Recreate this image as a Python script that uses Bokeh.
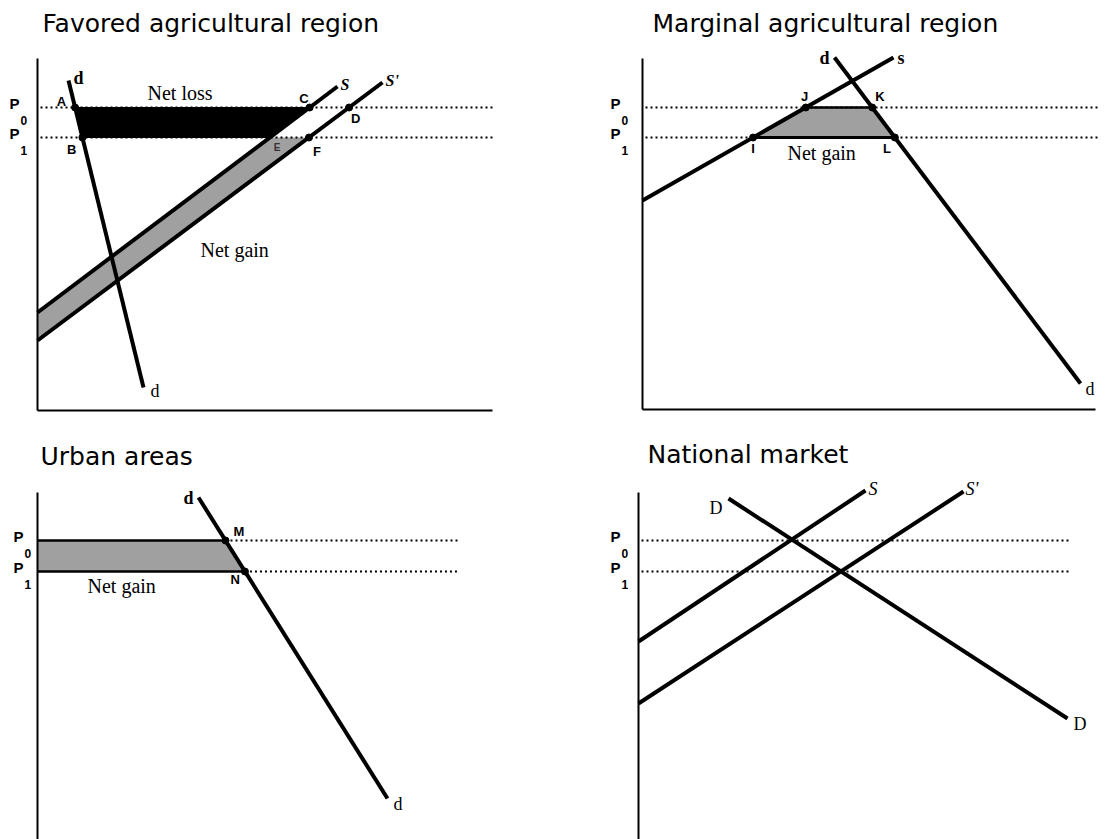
import numpy as np
from bokeh.plotting import figure
from bokeh.layouts import gridplot
from bokeh.models import Range1d, LinearAxis, FixedTicker
from bokeh.core.properties import value
from bokeh.embed import file_html
from bokeh.resources import INLINE

# ---------------- data (quantity / price units) ----------------
TITLES = ["Favored agricultural region", "Marginal agricultural region",
          "Urban areas", "National market"]
PRICE_SUBS = ["0", "1"]

# Favored agricultural region
fav_prices = [30.3, 27.3]                 # P0, P1
fav_s_x = [0.0, 30.0]
fav_s_y = [9.8, 32.4]
fav_s2_x = [0.0, 34.5]
fav_s2_y = [7.0, 32.8]
fav_d_x = [3.1, 10.6]
fav_d_y = [33.0, 2.3]

# Marginal agricultural region
mar_prices = [30.2, 27.2]
mar_s_x = [0.0, 25.1]
mar_s_y = [20.9, 35.2]
mar_d_x = [19.2, 43.8]
mar_d_y = [35.2, 2.6]

# Urban areas
urb_prices = [29.9, 26.8]
urb_d_x = [16.1, 35.0]
urb_d_y = [34.2, 4.1]

# National market
nat_prices = [29.9, 26.8]
nat_s_x = [0.0, 22.7]
nat_s_y = [19.8, 34.9]
nat_s2_x = [0.0, 32.5]
nat_s2_y = [13.6, 34.8]
nat_d_x = [9.0, 42.9]
nat_d_y = [34.1, 12.1]

# ---------------- helpers ----------------
SERIF = value("Liberation Serif")
SANS = value("Liberation Sans")
TFONT = value("DejaVu Sans")
GRAY = "#a0a0a0"
LW = 4


def x_at(xs, ys, y):
    return xs[0] + (y - ys[0]) * (xs[1] - xs[0]) / (ys[1] - ys[0])


def make_fig(w, h, xr, yr):
    p = figure(width=w, height=h, x_range=Range1d(*xr), y_range=Range1d(*yr),
               x_axis_type=None, y_axis_type=None, toolbar_location=None,
               output_backend="svg", min_border=0, outline_line_color=None)
    p.border_fill_color = "white"
    p.background_fill_color = "white"
    return p


def add_axes(p, ytop, xend=None):
    ya = LinearAxis(fixed_location=0, bounds=(0, ytop), ticker=FixedTicker(ticks=[]),
                    axis_line_width=2, axis_line_color="black",
                    major_tick_line_color=None, minor_tick_line_color=None,
                    major_label_text_font_size="0px")
    p.add_layout(ya, "left")
    if xend is not None:
        xa = LinearAxis(fixed_location=0, bounds=(0, xend), ticker=FixedTicker(ticks=[]),
                        axis_line_width=2, axis_line_color="black",
                        major_tick_line_color=None, minor_tick_line_color=None,
                        major_label_text_font_size="0px")
        p.add_layout(xa, "below")


def label(p, x, y, t, font, size, style="normal", align="left", dx=0, dy=0, color="black"):
    # small correction so that the glyph's baseline lands where intended
    dy = dy - round(0.27 * size)
    p.text(x=[x], y=[y], text=[t], text_font=font, text_font_size=f"{size}px",
           text_font_style=style, text_align=align, text_baseline="alphabetic",
           x_offset=dx, y_offset=dy, text_color=color)


def price_labels(p, prices, dx):
    for pr, sub in zip(prices, PRICE_SUBS):
        label(p, 0, pr, "P", SANS, 15, "bold", dx=dx)
        label(p, 0, pr, sub, SANS, 12, "bold", dx=dx + 11, dy=16)


def dotted(p, x0, x1, y):
    p.line([x0, x1], [y, y], line_color="black", line_width=2, line_dash="2 3")


def curve(p, xs, ys):
    p.line(xs, ys, line_color="black", line_width=LW)


def dots(p, xs, ys):
    p.scatter(xs, ys, size=7, color="black")


# ---------------- Favored agricultural region ----------------
p1 = make_fig(560, 440, (-3.7, 52.3), (-3.0, 41.0))
P0, P1 = fav_prices
A = (x_at(fav_d_x, fav_d_y, P0), P0)
B = (x_at(fav_d_x, fav_d_y, P1), P1)
C = (x_at(fav_s_x, fav_s_y, P0), P0)
E = (x_at(fav_s_x, fav_s_y, P1), P1)
D = (x_at(fav_s2_x, fav_s2_y, P0), P0)
F = (x_at(fav_s2_x, fav_s2_y, P1), P1)
p1.patch([0, E[0], F[0], 0], [fav_s_y[0], P1, P1, fav_s2_y[0]], fill_color=GRAY, line_color=None)
for pr in fav_prices:
    dotted(p1, 0.3, 45.7, pr)
p1.patch([A[0], C[0], E[0], B[0]], [P0, P0, P1, P1], fill_color="black", line_color="black")
curve(p1, fav_s_x, fav_s_y)
curve(p1, fav_s2_x, fav_s2_y)
curve(p1, fav_d_x, fav_d_y)
add_axes(p1, 35.2, 45.5)
dots(p1, [A[0], B[0], C[0], D[0], F[0]], [P0, P1, P0, P0, P1])
label(p1, *A, "A", SANS, 13, "bold", "right", dx=-9, dy=-2)
label(p1, *B, "B", SANS, 13, "bold", "right", dx=-6, dy=16)
label(p1, *C, "C", SANS, 13, "bold", "right", dx=-1, dy=-5)
label(p1, *D, "D", SANS, 13, "bold", "left", dx=2, dy=15)
label(p1, *F, "F", SANS, 13, "bold", "left", dx=4, dy=18)
label(p1, *E, "E", SANS, 10, "bold", "left", dx=4, dy=13, color="#333333")
label(p1, fav_d_x[0], fav_d_y[0], "d", SERIF, 18, "bold", dx=5, dy=2)
label(p1, fav_d_x[1], fav_d_y[1], "d", SERIF, 18, dx=7, dy=8)
label(p1, fav_s_x[1], fav_s_y[1], "S", SERIF, 16, "bold italic", dx=3, dy=2)
label(p1, fav_s2_x[1], fav_s2_y[1], "S'", SERIF, 16, "bold italic", dx=3, dy=2)
label(p1, 11.0, 31.3, "Net loss", SERIF, 20)
label(p1, 16.3, 15.6, "Net gain", SERIF, 20)
label(p1, 0.5, 38.0, TITLES[0], TFONT, 25)
price_labels(p1, fav_prices, -28)

# ---------------- Marginal agricultural region ----------------
p2 = make_fig(550, 440, (-8.2, 46.8), (-3.1, 40.9))
P0, P1 = mar_prices
J = (x_at(mar_s_x, mar_s_y, P0), P0)
I = (x_at(mar_s_x, mar_s_y, P1), P1)
K = (x_at(mar_d_x, mar_d_y, P0), P0)
L = (x_at(mar_d_x, mar_d_y, P1), P1)
p2.patch([I[0], J[0], K[0], L[0]], [P1, P0, P0, P1], fill_color=GRAY, line_color=None)
for pr in mar_prices:
    dotted(p2, 0.3, 45.5, pr)
p2.line([J[0], K[0]], [P0, P0], line_color="black", line_width=2.5)
p2.line([I[0], L[0]], [P1, P1], line_color="black", line_width=3)
curve(p2, mar_s_x, mar_s_y)
curve(p2, mar_d_x, mar_d_y)
add_axes(p2, 35.1, 45.3)
dots(p2, [I[0], J[0], K[0], L[0]], [P1, P0, P0, P1])
label(p2, *J, "J", SANS, 13, "bold", "center", dx=-1, dy=-7)
label(p2, *K, "K", SANS, 13, "bold", "left", dx=3, dy=-7)
label(p2, *I, "I", SANS, 13, "bold", "center", dx=0, dy=15)
label(p2, *L, "L", SANS, 13, "bold", "right", dx=-4, dy=15)
label(p2, mar_d_x[0], mar_d_y[0], "d", SERIF, 18, "bold", "right", dx=-5, dy=5)
label(p2, mar_s_x[1], mar_s_y[1], "s", SERIF, 18, "bold", dx=4, dy=5)
label(p2, mar_d_x[1], mar_d_y[1], "d", SERIF, 18, dx=5, dy=10)
label(p2, 14.5, 25.2, "Net gain", SERIF, 20)
label(p2, 1.0, 37.9, TITLES[1], TFONT, 25)
price_labels(p2, mar_prices, -32)

# ---------------- Urban areas ----------------
p3 = make_fig(560, 399, (-3.7, 52.3), (0.0, 39.9))
P0, P1 = urb_prices
M = (x_at(urb_d_x, urb_d_y, P0), P0)
N = (x_at(urb_d_x, urb_d_y, P1), P1)
p3.patch([0, M[0], N[0], 0], [P0, P0, P1, P1], fill_color=GRAY, line_color=None)
dotted(p3, M[0], 42.0, P0)
dotted(p3, N[0], 42.0, P1)
p3.line([0, M[0]], [P0, P0], line_color="black", line_width=2.5)
p3.line([0, N[0]], [P1, P1], line_color="black", line_width=2.5)
curve(p3, urb_d_x, urb_d_y)
add_axes(p3, 34.7)
dots(p3, [M[0], N[0]], [P0, P1])
label(p3, *M, "M", SANS, 13, "bold", "left", dx=8, dy=-5)
label(p3, *N, "N", SANS, 13, "bold", "right", dx=-5, dy=12)
label(p3, urb_d_x[0], urb_d_y[0], "d", SERIF, 18, "bold", "right", dx=-5, dy=5)
label(p3, urb_d_x[1], urb_d_y[1], "d", SERIF, 18, dx=6, dy=10)
label(p3, 5.0, 24.9, "Net gain", SERIF, 20)
label(p3, 0.3, 37.6, TITLES[2], TFONT, 25)
price_labels(p3, urb_prices, -24)

# ---------------- National market ----------------
p4 = make_fig(550, 399, (-7.8, 47.2), (0.0, 39.9))
for pr in nat_prices:
    dotted(p4, 0.3, 43.2, pr)
curve(p4, nat_s_x, nat_s_y)
curve(p4, nat_s2_x, nat_s2_y)
curve(p4, nat_d_x, nat_d_y)
add_axes(p4, 34.7)
label(p4, nat_s_x[1], nat_s_y[1], "S", SERIF, 18, "italic", dx=3, dy=3)
label(p4, nat_s2_x[1], nat_s2_y[1], "S'", SERIF, 18, "italic", dx=2, dy=2)
label(p4, nat_d_x[0], nat_d_y[0], "D", SERIF, 18, "normal", "right", dx=-6, dy=14)
label(p4, nat_d_x[1], nat_d_y[1], "D", SERIF, 18, dx=6, dy=10)
label(p4, 0.9, 37.8, TITLES[3], TFONT, 25)
price_labels(p4, nat_prices, -28)

grid = gridplot([[p1, p2], [p3, p4]], toolbar_location=None)
open("out.html", "w").write(file_html(grid, INLINE))
